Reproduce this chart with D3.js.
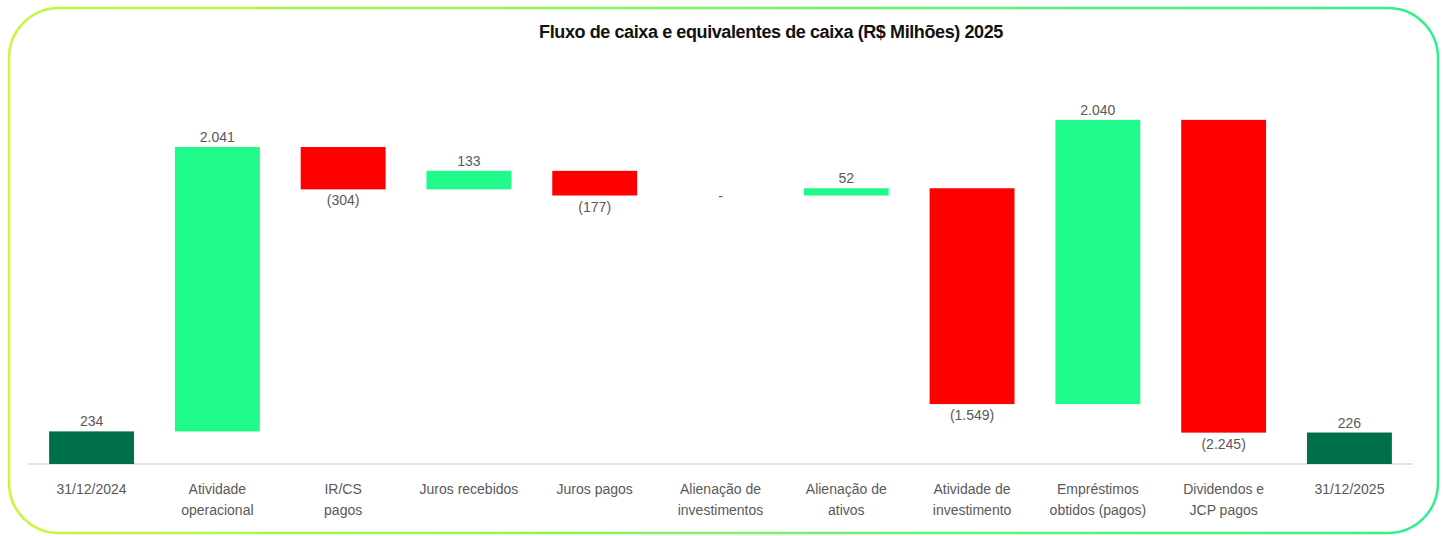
<!DOCTYPE html>
<html>
<head>
<meta charset="utf-8">
<script src="https://cdn.jsdelivr.net/npm/d3@7.9.0/dist/d3.min.js"></script>
<style>
  html, body { margin: 0; padding: 0; background: #fff; }
  svg { display: block; font-family: "Liberation Sans", Arial, sans-serif; }
</style>
</head>
<body>
<svg id="chart" width="1443" height="536"></svg>
<script>
/* ------------------------------- Data ------------------------------- */
const categories = [
  ["31/12/2024"],
  ["Atividade", "operacional"],
  ["IR/CS", "pagos"],
  ["Juros recebidos"],
  ["Juros pagos"],
  ["Alienação de", "investimentos"],
  ["Alienação de", "ativos"],
  ["Atividade de", "investimento"],
  ["Empréstimos", "obtidos (pagos)"],
  ["Dividendos e", "JCP pagos"],
  ["31/12/2025"]
];
const values = [234, 2041, -304, 133, -177, 0, 52, -1549, 2040, -2245, 226];
const kinds = ["total", "delta", "delta", "delta", "delta", "delta", "delta", "delta", "delta", "delta", "total"];
const valueLabels = ["234", "2.041", "(304)", "133", "(177)", "-", "52", "(1.549)", "2.040", "(2.245)", "226"];
const title = "Fluxo de caixa e equivalentes de caixa (R$ Milhões) 2025";

/* --------------------------- Waterfall steps --------------------------- */
let running = 0;
const steps = values.map((v, i) => {
  let lo, hi;
  if (kinds[i] === "total") {
    lo = 0; hi = v; running = v;
  } else {
    const start = running;
    running += v;
    lo = Math.min(start, running); hi = Math.max(start, running);
  }
  return { i, v, lo, hi, kind: kinds[i], label: valueLabels[i], cat: categories[i] };
});

/* ------------------------------ Scales ------------------------------ */
const svg = d3.select("#chart");
const x = d3.scaleBand().domain(d3.range(categories.length)).range([29, 1412]).paddingInner(0.325).paddingOuter(0.16);
const y = d3.scaleLinear().domain([0, 3000]).range([464, 46]);

const color = d => d.kind === "total" ? "#00704A" : (d.v >= 0 ? "#1FFA8A" : "#FF0000");

/* ------------------------------ Frame ------------------------------ */
const defs = svg.append("defs");
const grad = defs.append("linearGradient").attr("id", "frameGrad")
  .attr("x1", "0%").attr("x2", "100%").attr("y1", "0%").attr("y2", "0%");
grad.append("stop").attr("offset", "0%").attr("stop-color", "#C8F73A");
grad.append("stop").attr("offset", "100%").attr("stop-color", "#2EF08C");

svg.append("rect")
  .attr("x", 9).attr("y", 8).attr("width", 1429).attr("height", 525)
  .attr("rx", 50).attr("ry", 50)
  .attr("fill", "#fff").attr("stroke", "url(#frameGrad)").attr("stroke-width", 2.5);

/* ------------------------------ Title ------------------------------ */
svg.append("text")
  .attr("x", 771).attr("y", 38)
  .attr("text-anchor", "middle")
  .attr("font-size", 18).attr("font-weight", 600)
  .attr("letter-spacing", -0.4)
  .attr("fill", "#111")
  .text(title);

/* ------------------------------ Axis line ------------------------------ */
svg.append("line")
  .attr("x1", 28).attr("x2", 1413)
  .attr("y1", y(0)).attr("y2", y(0))
  .attr("stroke", "#D9D9D9").attr("stroke-width", 1.5);

/* ------------------------------ Bars ------------------------------ */
svg.append("g").selectAll("rect")
  .data(steps.filter(d => d.hi > d.lo))
  .join("rect")
  .attr("x", d => x(d.i))
  .attr("width", x.bandwidth())
  .attr("y", d => y(d.hi))
  .attr("height", d => y(d.lo) - y(d.hi))
  .attr("fill", color);

/* ------------------------------ Value labels ------------------------------ */
svg.append("g").selectAll("text")
  .data(steps)
  .join("text")
  .attr("x", d => x(d.i) + x.bandwidth() / 2)
  .attr("y", d => {
    if (d.v === 0) return y(d.hi) + 5;
    return d.v > 0 ? y(d.hi) - 5 : y(d.lo) + 16;
  })
  .attr("text-anchor", "middle")
  .attr("font-size", 14)
  .attr("fill", "#595959")
  .text(d => d.label);

/* ------------------------------ Category labels ------------------------------ */
const cats = svg.append("g").selectAll("text")
  .data(steps)
  .join("text")
  .attr("x", d => x(d.i) + x.bandwidth() / 2)
  .attr("y", 494)
  .attr("text-anchor", "middle")
  .attr("font-size", 14)
  .attr("fill", "#595959");

cats.selectAll("tspan")
  .data(d => d.cat.map(t => ({ t, cx: x(d.i) + x.bandwidth() / 2 })))
  .join("tspan")
  .attr("x", t => t.cx)
  .attr("dy", (t, j) => j === 0 ? 0 : 21)
  .text(t => t.t);
</script>
</body>
</html>
